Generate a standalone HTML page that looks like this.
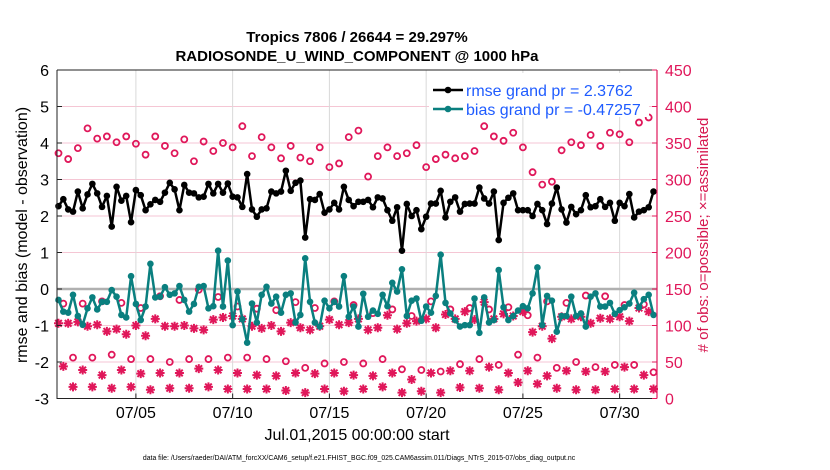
<!DOCTYPE html>
<html><head><meta charset="utf-8"><style>
body{margin:0;background:#fff;}
svg{display:block;font-family:"Liberation Sans",Arial,sans-serif;}
</style></head><body>
<svg id="chart" width="830" height="470" viewBox="0 0 830 470" xmlns="http://www.w3.org/2000/svg">
<rect width="830" height="470" fill="#fff"/>
<text x="357" y="42" font-size="15" font-weight="bold" text-anchor="middle">Tropics 7806 / 26644 = 29.297%</text>
<text x="357" y="61" font-size="15" font-weight="bold" text-anchor="middle">RADIOSONDE_U_WIND_COMPONENT @ 1000 hPa</text>
<g id="grid"></g>
<g id="marks"></g>
<g id="axes"></g>
<g id="legend">
<rect x="429" y="73" width="220" height="44" fill="#fff"/>
<g>
<line x1="433" y1="90" x2="463" y2="90" stroke="#000" stroke-width="2.5"/><circle cx="448" cy="90" r="3.3" fill="#000"/>
<text x="466" y="96" font-size="16" fill="#1f5cff">rmse grand pr = 2.3762</text></g>
<g>
<line x1="433" y1="109" x2="463" y2="109" stroke="#0a7f7f" stroke-width="2.5"/><circle cx="448" cy="109" r="3.3" fill="#0a7f7f"/>
<text x="466" y="115" font-size="16" fill="#1f5cff">bias grand pr = -0.47257</text></g>
</g>
<text x="357" y="440" font-size="16" text-anchor="middle">Jul.01,2015 00:00:00 start</text>
<text x="359" y="460" font-size="6.9" text-anchor="middle">data file: /Users/raeder/DAI/ATM_forcXX/CAM6_setup/f.e21.FHIST_BGC.f09_025.CAM6assim.011/Diags_NTrS_2015-07/obs_diag_output.nc</text>
<text transform="translate(27,235) rotate(-90)" font-size="16" text-anchor="middle">rmse and bias (model - observation)</text>
<text transform="translate(708,235) rotate(-90)" font-size="15" text-anchor="middle" fill="#d6174f"># of obs: o=possible; ×=assimilated</text>
</svg>
<script>
const rmse=[2.27,2.46,2.18,2.12,2.67,2.21,2.59,2.88,2.62,2.25,2.55,1.71,2.80,2.42,2.55,1.83,2.71,2.57,2.16,2.32,2.44,2.39,2.64,2.91,2.73,2.16,2.85,2.64,2.62,2.51,2.53,2.88,
2.62,2.88,2.64,2.89,2.53,2.51,2.25,3.15,2.18,1.98,2.18,2.21,2.67,2.62,2.67,3.24,2.69,2.91,2.97,1.41,2.46,2.44,2.60,2.09,2.18,2.36,2.18,2.80,2.44,2.27,2.39,
2.39,2.44,2.24,2.51,2.48,2.16,1.87,2.24,1.05,2.33,2.0,2.16,1.64,1.98,2.34,2.34,2.69,1.96,2.39,2.51,2.12,2.33,2.34,2.34,2.78,2.48,2.34,2.67,1.34,2.36,2.50,
2.62,2.16,2.16,2.16,2.0,2.33,2.16,1.78,2.34,2.78,2.18,1.82,2.25,2.05,2.16,2.57,2.24,2.27,2.46,2.25,2.36,1.87,2.36,2.27,2.60,1.96,2.12,2.16,2.24,2.67];
const bias=[-0.30,-0.62,-0.65,-0.16,-0.74,-0.98,-0.53,-0.23,-0.56,-0.35,-0.35,-0.03,-0.21,-0.71,-0.78,0.35,-0.41,-0.85,-0.48,0.69,-0.23,-0.21,0.05,-0.16,-0.12,0.08,-0.30,-0.62,-0.41,0.06,0.08,-0.53,
-0.47,1.05,-0.48,0.78,-0.99,-0.07,-0.83,-1.47,-0.40,-0.92,-0.16,0.06,-0.40,-0.21,-0.65,-0.16,-0.12,-0.92,-0.71,0.84,-0.35,-0.92,-1.03,-0.32,-0.53,-0.35,-0.48,0.35,-0.76,-0.48,-1.03,
-0.13,-0.76,-0.59,-0.68,-0.16,-0.47,0.17,-0.07,0.54,-0.74,-0.32,-0.26,-0.87,-0.48,-0.65,-0.19,0.94,-0.38,-0.67,-0.85,-1.03,-0.99,-0.99,-0.26,-1.20,-0.23,-0.92,-0.85,0.52,-0.50,-0.85,
-0.74,-0.59,-0.47,-0.53,-0.12,0.59,-0.99,-0.19,-0.32,-1.17,-0.74,-0.74,-0.21,-0.74,-0.67,-1.03,-0.21,-0.12,-0.48,-0.48,-0.38,-0.68,-0.58,-0.50,-0.40,-0.10,-0.50,-0.28,-0.16,-0.71];
const possEven=[336,328,343,370,356,359,351,359,349,334,359,346,336,355,325,352,339,350,344,373,332,358,344,329,346,330,325,344,317,322,358,367,
304,332,344,332,336,347,317,328,334,329,332,339,373,359,353,364,344,310,293,297,340,351,347,361,346,364,362,351,378,385];
const assimEven=[103,103,105,99,101,92,95,88,100,86,109,99,99,100,96,94,108,111,113,109,99,96,100,92,104,97,94,99,108,101,104,109,
94,97,114,95,103,106,109,97,115,109,119,108,132,109,116,113,119,91,99,82,112,109,112,103,110,109,112,106,124,119];
const possMod1=[130,130,133,131,124,140,135,149,139,126,123,121,132,124,133,128,117,122,113,133,122,124,122,125,114,133,131,141,140,128,129];
const assimMod1=[44,39,32,39,34,35,35,41,39,35,32,31,35,34,35,32,31,35,26,35,38,38,43,35,38,31,38,37,37,43,32];
const possMod3=[56,56,60,54,54,50,54,54,56,56,54,51,42,48,50,48,54,40,39,37,47,54,46,60,56,42,50,43,46,46,36];
const assimMod3=[16,16,14,16,12,14,14,16,13,13,13,11,8,13,10,13,16,8,10,8,15,14,12,22,20,14,12,12,13,13,13];
const xTickLabels=["07/05","07/10","07/15","07/20","07/25","07/30"];
const xTickDays=[4,9,14,19,24,29];
const yTicks=[-3,-2,-1,0,1,2,3,4,5,6];
const yRightTicks=[0,50,100,150,200,250,300,350,400,450];

const NS="http://www.w3.org/2000/svg";
const L=57,R=657,T=70,B=398.5;
const xs=d=>58.5+d*19.35;
const ys=v=>289-v*36.5;
const yc=c=>ys(c/50-3);
const dayOf=i=>i*0.25;
const RED="#e0175a",TEAL="#0a7f7f";
function mk(tag,attrs,parent){const e=document.createElementNS(NS,tag);for(const k in attrs)e.setAttribute(k,attrs[k]);parent.appendChild(e);return e;}
const grid=document.getElementById('grid'),marks=document.getElementById('marks'),axes=document.getElementById('axes');
yTicks.forEach(v=>{if(v===0||v===-3||v===6)return;const l=mk('line',{x1:L,x2:R,y1:ys(v),y2:ys(v),stroke:'#f5c6d4','stroke-width':1},grid);

});
xTickDays.forEach(d=>{const l=mk('line',{x1:xs(d),x2:xs(d),y1:T,y2:B,stroke:'#d9d9d9','stroke-width':1},grid);

});
const zl=mk('line',{x1:L,x2:R,y1:ys(0),y2:ys(0),stroke:'#b0b0b0','stroke-width':2.5},grid);


function circ(x,y){const c=mk('circle',{cx:x,cy:y,r:3,fill:'none',stroke:RED,'stroke-width':1.8},marks);

}
function star(x,y){const g=mk('path',{d:`M${x-4.5},${y}H${x+4.5}M${x},${y-4.5}V${y+4.5}M${x-3.3},${y-3.3}L${x+3.3},${y+3.3}M${x-3.3},${y+3.3}L${x+3.3},${y-3.3}`,stroke:RED,'stroke-width':2},marks);

}
possEven.forEach((c,k)=>circ(xs(dayOf(2*k)),yc(c)));
possMod1.forEach((c,k)=>circ(xs(dayOf(4*k+1)),yc(c)));
possMod3.forEach((c,k)=>circ(xs(dayOf(4*k+3)),yc(c)));
assimEven.forEach((c,k)=>star(xs(dayOf(2*k)),yc(c)));
assimMod1.forEach((c,k)=>star(xs(dayOf(4*k+1)),yc(c)));
assimMod3.forEach((c,k)=>star(xs(dayOf(4*k+3)),yc(c)));
function series(arr,color,name){const p=mk('polyline',{points:arr.map((v,i)=>xs(dayOf(i))+','+ys(v)).join(' '),fill:'none',stroke:color,'stroke-width':2.5,'stroke-linejoin':'round'},marks);


arr.forEach((v,i)=>{const c=mk('circle',{cx:xs(dayOf(i)),cy:ys(v),r:3.3,fill:color},marks);

});}
series(bias,TEAL,'bias');
series(rmse,'#000','rmse');
const ax=mk('path',{d:`M${L},${T}V${B}H${R}M${L},${T}H${R}`,stroke:'#222','stroke-width':1,fill:'none'},axes);


const ra=mk('line',{x1:R,x2:R,y1:T,y2:B,stroke:RED,'stroke-width':1.2},axes);


yTicks.forEach(v=>{mk('line',{x1:L,x2:L+5,y1:ys(v),y2:ys(v),stroke:'#222'},axes);
const t=mk('text',{x:L-8,y:ys(v)+6,'font-size':16,'text-anchor':'end'},axes);t.textContent=v;

});
yRightTicks.forEach(c=>{mk('line',{x1:R-5,x2:R,y1:yc(c),y2:yc(c),stroke:RED},axes);
const t=mk('text',{x:R+8,y:yc(c)+6,'font-size':16,fill:RED},axes);t.textContent=c;

});
xTickDays.forEach((d,i)=>{mk('line',{x1:xs(d),x2:xs(d),y1:B,y2:B-5,stroke:'#222'},axes);
const t=mk('text',{x:xs(d),y:418,'font-size':16,'text-anchor':'middle'},axes);t.textContent=xTickLabels[i];

});
</script>
</body></html>
